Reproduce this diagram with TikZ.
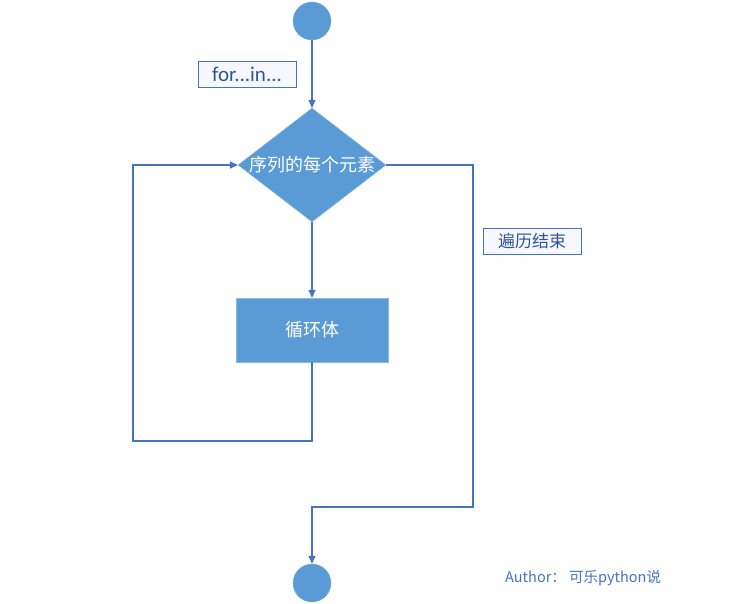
\documentclass[tikz,border=0pt]{standalone}
\usepackage{fontspec}
\setmainfont{Carlito}
\newfontfamily\cjk{Noto Sans CJK SC}
\usetikzlibrary{shapes.geometric,arrows.meta}
\definecolor{fillb}{HTML}{5B9BD5}
\definecolor{lineb}{HTML}{4472C4}
\definecolor{txtb}{HTML}{2F5597}
\begin{document}
\begin{tikzpicture}[x=1pt,y=-1pt,
  term/.style={circle,fill=fillb,draw=fillb!80!white,minimum size=38pt,inner sep=0},
  dec/.style={diamond,fill=fillb,draw=fillb!80!white,minimum width=145pt,minimum height=113pt,inner sep=0,aspect=1.3,text=white,font=\cjk\fontsize{18}{20}\selectfont},
  proc/.style={rectangle,fill=fillb,draw=fillb!70!white,minimum width=152pt,minimum height=64pt,text=white,font=\cjk\fontsize{18}{20}\selectfont},
  lab/.style={rectangle,draw=lineb,fill=blue!3,minimum width=98pt,minimum height=26pt,inner sep=0,text=txtb,font=\cjk\fontsize{17}{19}\selectfont},
  conn/.style={draw=lineb,line width=1.2pt},
  arr/.style={conn,-{Triangle[length=8pt,width=7pt]}}]
\useasboundingbox (0,0) rectangle (750,603);
\node[term] (start) at (312,21) {};
\node[dec] (d) at (312,165) {序列的每个元素};
\node[proc] (body) at (312,330) {循环体};
\node[term] (end) at (312,583) {};
\node[lab,font=\fontsize{21}{23}\selectfont] (forin) at (247,74) {for...in...};
\node[lab] (done) at (532,241) {遍历结束};
\node[text=lineb,font=\cjk\fontsize{14.5}{16}\selectfont,anchor=west,inner sep=0] (auth) at (505,578) {Author： 可乐python说};
\coordinate (l1) at (312,441);
\coordinate (l2) at (133,441);
\coordinate (l3) at (133,165);
\coordinate (r1) at (473,165);
\coordinate (r2) at (473,507);
\coordinate (r3) at (312,507);
\draw[arr] (start) -- (d.north);
\draw[arr] (d.south) -- (body.north);
\draw[arr] (body.south) -- (l1) -- (l2) -- (l3) -- (d.west);
\draw[arr] (d.east) -- (r1) -- (r2) -- (r3) -- (end.north);
\end{tikzpicture}
\end{document}
